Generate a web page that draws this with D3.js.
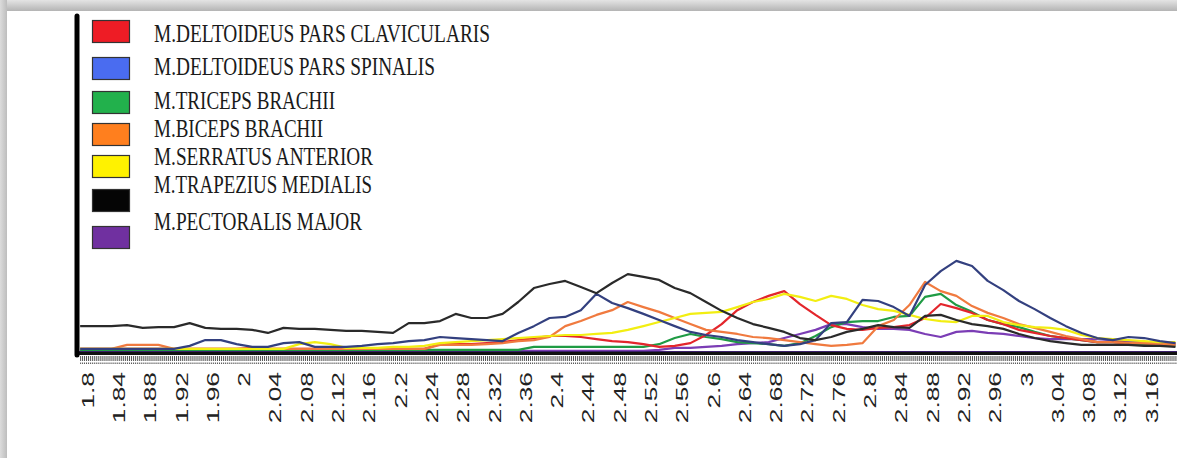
<!DOCTYPE html>
<html>
<head>
<meta charset="utf-8">
<script src="https://cdn.jsdelivr.net/npm/d3@7"></script>
<style>
  html, body { margin: 0; padding: 0; background: #ffffff; }
  svg { display: block; }
</style>
</head>
<body>
<svg id="chart" width="1177" height="458"></svg>
<script>
// ---------------- DATA ----------------
const time = [1.79,1.81,1.83,1.85,1.87,1.89,1.91,1.93,1.95,1.97,
  1.99,2.01,2.03,2.05,2.07,2.09,2.11,2.13,2.15,2.17,
  2.19,2.21,2.23,2.25,2.27,2.29,2.31,2.33,2.35,2.37,
  2.39,2.41,2.43,2.45,2.47,2.49,2.51,2.53,2.55,2.57,
  2.59,2.61,2.63,2.65,2.67,2.69,2.71,2.73,2.75,2.77,
  2.79,2.81,2.83,2.85,2.87,2.89,2.91,2.93,2.95,2.97,
  2.99,3.01,3.03,3.05,3.07,3.09,3.11,3.13,3.15,3.17,3.19];

const tickLabels = ["1.8","1.84","1.88","1.92","1.96","2","2.04","2.08","2.12","2.16",
  "2.2","2.24","2.28","2.32","2.36","2.4","2.44","2.48","2.52","2.56",
  "2.6","2.64","2.68","2.72","2.76","2.8","2.84","2.88","2.92","2.96",
  "3","3.04","3.08","3.12","3.16"];

const seriesNames = ["M.DELTOIDEUS PARS CLAVICULARIS","M.DELTOIDEUS PARS SPINALIS","M.TRICEPS BRACHII",
  "M.BICEPS BRACHII","M.SERRATUS ANTERIOR","M.TRAPEZIUS MEDIALIS","M.PECTORALIS MAJOR"];

const clavicularis = [1.2,1.2,1.2,1.2,1.2,1.2,1.2,1.2,1.2,1.2,
  1.2,1.5,1.2,1.2,1.2,1.2,1.2,1.2,1.2,1.2,
  1.2,1.2,1.2,2.6,2.6,2.6,2.9,3.2,3.8,4.4,
  5.0,5.0,4.7,4.1,3.5,3.2,2.6,1.8,2.1,2.9,
  5.3,8.5,12.6,15.0,16.8,18.2,14.4,11.2,8.2,7.1,
  6.8,7.4,7.6,8.2,10.3,14.4,13.2,11.8,9.7,8.5,
  6.8,5.9,5.0,4.4,3.8,3.2,3.2,2.9,2.9,2.6,2.6];

const spinalis = [1.2,1.2,1.2,1.2,1.2,1.2,1.2,2.1,3.8,3.8,
  2.6,1.8,1.8,2.9,3.2,1.8,1.8,1.8,2.1,2.6,
  2.9,3.5,3.8,4.7,4.4,4.1,3.8,3.5,5.9,7.9,
  10.3,10.6,12.6,17.4,14.7,13.2,11.5,9.7,7.9,6.2,
  5.3,4.7,3.8,3.2,2.6,2.1,2.6,3.8,8.8,9.1,
  15.6,15.3,13.5,10.9,20.0,24.1,27.1,25.6,21.2,18.5,
  15.3,12.9,10.3,7.9,5.9,4.4,3.8,4.7,4.4,3.5,2.9];

const triceps = [0.9,0.9,0.9,0.9,0.9,0.9,0.9,0.9,0.9,0.9,
  0.9,0.9,0.9,0.9,0.9,0.9,0.9,0.9,0.9,0.9,
  0.9,0.9,0.9,0.9,0.9,0.9,0.9,0.9,0.9,1.8,
  1.8,1.8,1.8,1.8,1.8,1.8,1.8,2.6,4.4,5.6,
  4.7,4.1,3.2,2.9,2.6,2.1,2.9,5.0,7.6,9.1,
  9.4,9.4,10.6,10.9,16.5,17.4,14.1,12.1,9.7,8.5,
  7.6,6.2,5.0,4.4,3.8,3.2,3.2,2.9,2.4,2.4,2.1];

const biceps = [1.2,1.2,1.2,2.4,2.4,2.4,1.2,1.2,1.2,1.2,
  1.2,1.2,1.2,1.2,1.2,1.2,1.2,1.2,1.2,1.2,
  1.2,1.2,1.2,2.4,2.4,2.4,2.6,2.9,3.5,3.8,
  4.7,7.9,9.4,11.2,12.6,15.0,13.5,12.1,10.3,8.5,
  6.8,6.2,5.6,4.7,4.4,3.8,3.2,2.6,2.1,2.4,
  2.9,7.9,9.7,14.1,20.9,18.2,16.8,13.8,11.8,10.3,
  8.5,7.4,6.2,5.0,4.1,3.2,3.2,2.9,2.9,2.6,2.4];

const serratus = [1.2,1.2,1.2,1.2,1.2,1.2,1.2,1.2,1.2,1.2,
  1.2,1.2,1.2,1.2,2.6,3.2,2.6,1.5,1.5,1.5,
  1.8,1.8,2.1,2.9,3.2,3.5,3.8,4.1,4.4,4.7,
  5.0,5.3,5.3,5.6,5.9,6.8,7.9,9.1,10.3,11.5,
  11.8,12.1,13.5,15.0,15.9,17.4,16.5,15.3,16.8,15.9,
  14.1,12.9,12.4,11.2,10.0,9.4,9.1,10.9,10.9,9.1,
  8.2,7.6,7.4,6.8,5.3,4.4,4.1,3.8,3.5,3.2,3.2];

const trapezius = [7.9,7.9,7.9,8.2,7.4,7.6,7.6,8.8,7.4,7.1,
  7.1,6.8,5.9,7.4,7.1,7.1,6.8,6.5,6.5,6.2,
  5.9,8.8,8.8,9.4,11.5,10.3,10.3,11.5,15.0,19.1,
  20.3,21.2,19.4,17.6,20.6,23.2,22.4,21.5,19.1,17.6,
  15.0,12.4,10.3,8.5,7.4,6.2,4.4,3.8,4.7,6.2,
  7.1,8.2,7.6,7.4,10.9,11.2,9.7,8.5,7.9,7.1,
  5.6,4.4,3.5,2.9,2.4,2.4,2.4,2.4,2.1,2.1,1.8];

const pectoralis = [0.6,0.6,0.6,0.6,0.6,0.6,0.6,0.6,0.6,0.6,
  0.6,0.6,0.6,0.6,0.6,0.6,0.6,0.6,0.6,0.6,
  0.6,0.6,0.6,0.6,0.6,0.6,0.6,0.6,0.6,0.6,
  0.6,0.6,0.6,0.6,0.6,0.6,0.6,0.9,1.5,1.5,
  1.8,2.1,2.6,2.9,3.2,4.4,5.6,6.8,8.5,8.5,
  7.6,7.1,7.1,6.8,5.6,4.7,6.2,6.5,5.9,5.6,
  5.0,4.4,4.1,4.1,4.1,4.1,3.8,3.5,3.2,2.9,2.9];

// ---------------- STYLE ----------------
const lineColors = {
  clav: "#e3262c", spin: "#33407f", tri: "#1f9b44", bic: "#f07a3f",
  ser: "#f2ee12", trap: "#2a2a2a", pec: "#7b3db5"
};
const swatchColors = ["#ee1c25", "#4a6cf0", "#22b14c", "#ff7f1e", "#fff200", "#050505", "#7030a0"];

const W = 1177, H = 458;
const svg = d3.select("#chart");

// frame shadow
const defs = svg.append("defs");
const gTop = defs.append("linearGradient").attr("id", "gTop").attr("x1", 0).attr("y1", 0).attr("x2", 0).attr("y2", 1);
gTop.append("stop").attr("offset", "0%").attr("stop-color", "#e4e4e4");
gTop.append("stop").attr("offset", "100%").attr("stop-color", "#b4b4b4");
const gLeft = defs.append("linearGradient").attr("id", "gLeft").attr("x1", 0).attr("y1", 0).attr("x2", 1).attr("y2", 0);
gLeft.append("stop").attr("offset", "0%").attr("stop-color", "#dcdcdc");
gLeft.append("stop").attr("offset", "100%").attr("stop-color", "#bdbdbd");

svg.append("rect").attr("x", 0).attr("y", 0).attr("width", W).attr("height", H).attr("fill", "#ffffff");
svg.append("rect").attr("x", 0).attr("y", 0).attr("width", W).attr("height", 11).attr("fill", "url(#gTop)");
svg.append("rect").attr("x", 0).attr("y", 0).attr("width", 7).attr("height", H).attr("fill", "url(#gLeft)");

// scales
const x = d3.scaleLinear().domain([1.786, 3.192]).range([77, 1177]);
const y = d3.scaleLinear().domain([0, 100]).range([353, 13]);

// x axis minor ticks
const minorTicks = d3.range(1.79, 3.192, 0.0025);
const axisG = svg.append("g").attr("transform", `translate(0,${y(0)})`);
const axis = d3.axisBottom(x).tickValues(minorTicks).tickSize(11).tickFormat("");
axisG.call(axis);
axisG.select(".domain").remove();
axisG.selectAll(".tick line").attr("stroke", "#555").attr("stroke-width", 1)
  .attr("y1", 3).attr("stroke-dasharray", "5,1.5");

// tick labels
const labelG = svg.append("g");
labelG.selectAll("text").data(tickLabels).join("text")
  .attr("transform", d => `translate(${x(+d)},372) rotate(-90) scale(1.55,1)`)
  .attr("text-anchor", "end")
  .attr("dominant-baseline", "central")
  .attr("font-family", "Liberation Sans, Arial, sans-serif")
  .attr("font-size", 17)
  .attr("fill", "#222")
  .text(d => d);

// series lines
const series = [
  { key: "pec", values: pectoralis },
  { key: "tri", values: triceps },
  { key: "clav", values: clavicularis },
  { key: "bic", values: biceps },
  { key: "ser", values: serratus },
  { key: "spin", values: spinalis },
  { key: "trap", values: trapezius }
];
const line = d3.line().x((d, i) => x(time[i])).y(d => y(d));
const clip = defs.append("clipPath").attr("id", "plotClip");
clip.append("rect").attr("x", 78).attr("y", 0).attr("width", W - 78).attr("height", 354);
const linesG = svg.append("g").attr("clip-path", "url(#plotClip)");
series.forEach(s => {
  linesG.append("path").datum(s.values)
    .attr("d", line)
    .attr("fill", "none")
    .attr("stroke", lineColors[s.key])
    .attr("stroke-width", 2.2)
    .attr("stroke-linejoin", "round");
});

// x baseline
svg.append("line").attr("x1", 77).attr("x2", W).attr("y1", y(0) + 0.5).attr("y2", y(0) + 0.5)
  .attr("stroke", "#111").attr("stroke-width", 3);
svg.append("line").attr("x1", 77).attr("x2", W).attr("y1", y(0) - 1.5).attr("y2", y(0) - 1.5)
  .attr("stroke", "#3b1f6a").attr("stroke-width", 1.2);

// y axis (thick)
svg.append("line").attr("x1", 77).attr("x2", 77).attr("y1", 16).attr("y2", 355)
  .attr("stroke", "#000").attr("stroke-width", 5).attr("stroke-linecap", "round");

// legend
const legendY = [20, 57, 91, 123, 155, 189, 226];
const legendBase = [42, 75, 109, 137, 165, 193, 230];
const legendEnd = [490, 435, 335, 323, 373, 372, 362];
const legG = svg.append("g");
seriesNames.forEach((name, i) => {
  legG.append("rect").attr("x", 92.5).attr("y", legendY[i] + 0.5).attr("width", 37).attr("height", 22)
    .attr("fill", swatchColors[i]).attr("stroke", "#333").attr("stroke-width", 1.2);
  legG.append("text").attr("x", 154).attr("y", legendBase[i])
    .attr("font-family", "Liberation Serif, Times New Roman, serif")
    .attr("font-size", 25)
    .attr("fill", "#1a1a1a")
    .attr("textLength", legendEnd[i] - 154)
    .attr("lengthAdjust", "spacingAndGlyphs")
    .text(name);
});
</script>
</body>
</html>
